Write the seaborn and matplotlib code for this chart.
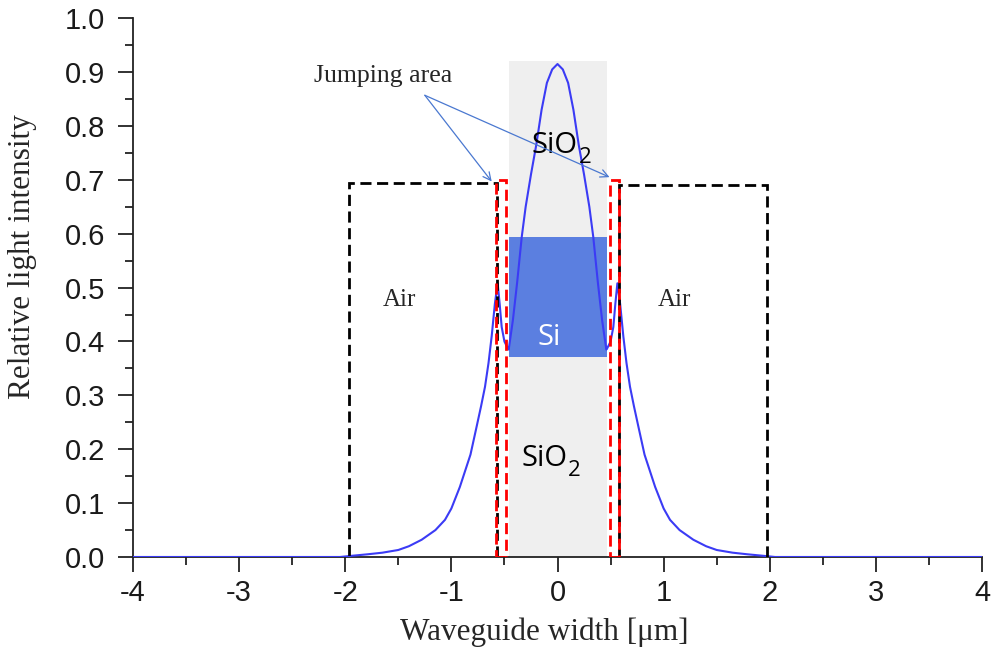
import numpy as np
import pandas as pd
import matplotlib
matplotlib.use("Agg")
import matplotlib.pyplot as plt
import matplotlib.transforms as mtransforms
import seaborn as sns
from matplotlib.patches import Rectangle

# ---- data ----
width_um = [-4.0, -2.05, -1.95, -1.79, -1.65, -1.5, -1.4, -1.28, -1.15, -1.06, -1.0,
            -0.92, -0.87, -0.82, -0.762, -0.72, -0.683, -0.65, -0.62, -0.59, -0.564,
            -0.545, -0.526, -0.5, -0.47, -0.46, -0.42, -0.38, -0.337, -0.3, -0.25,
            -0.2, -0.15, -0.1, -0.05, 0.0,
            0.05, 0.1, 0.15, 0.2, 0.25, 0.3, 0.337, 0.38, 0.42, 0.46, 0.47, 0.5,
            0.526, 0.545, 0.564, 0.59, 0.62, 0.65, 0.683, 0.72, 0.762, 0.82, 0.87,
            0.92, 1.0, 1.06, 1.15, 1.28, 1.4, 1.5, 1.65, 1.79, 1.95, 2.05, 4.0]
intensity = [0.0, 0.0, 0.002, 0.005, 0.008, 0.013, 0.02, 0.032, 0.05, 0.069, 0.09,
             0.13, 0.16, 0.19, 0.242, 0.28, 0.316, 0.36, 0.41, 0.47, 0.508,
             0.47, 0.427, 0.40, 0.388, 0.385, 0.44, 0.51, 0.594, 0.65, 0.71,
             0.765, 0.83, 0.88, 0.905, 0.915,
             0.905, 0.88, 0.83, 0.765, 0.71, 0.65, 0.594, 0.51, 0.44, 0.385, 0.388, 0.40,
             0.427, 0.47, 0.508, 0.47, 0.41, 0.36, 0.316, 0.28, 0.242, 0.19, 0.16,
             0.13, 0.09, 0.069, 0.05, 0.032, 0.02, 0.013, 0.008, 0.005, 0.002, 0.0, 0.0]

x_ticks = [-4, -3, -2, -1, 0, 1, 2, 3, 4]
y_ticks = [0.0, 0.1, 0.2, 0.3, 0.4, 0.5, 0.6, 0.7, 0.8, 0.9, 1.0]

# regions: (x0, x1, y0, y1)
sio2_region = (-0.457, 0.466, 0.0, 0.92)
si_region = (-0.457, 0.466, 0.371, 0.594)
air_left = (-1.965, -0.57, -0.003, 0.694)
air_right = (0.58, 1.975, -0.004, 0.69)
jump_left = (-0.58, -0.485, 0.0, 0.70)
jump_right = (0.495, 0.58, 0.0, 0.70)

df = pd.DataFrame({"width": width_um, "intensity": intensity})

sns.set_style("ticks")
plt.rcParams["font.family"] = ["Liberation Sans", "DejaVu Sans"]

fig = plt.figure(figsize=(9.92, 6.51), dpi=100)
ax = fig.add_axes([0.134, 0.1444, 0.856, 0.8276])

def rect(r, **kw):
    x0, x1, y0, y1 = r
    ax.add_patch(Rectangle((x0, y0), x1 - x0, y1 - y0, **kw))

rect(sio2_region, facecolor="#EFEFEF", edgecolor="none", zorder=0)
rect(si_region, facecolor="#5B7FE0", edgecolor="none", zorder=1)

sns.lineplot(data=df, x="width", y="intensity", ax=ax, color="#3B3BF5",
             linewidth=1.5, zorder=3, sort=False)

dash_kw = dict(fill=False, linestyle=(0, (4, 2)), linewidth=2.0, zorder=4)
rect(air_left, edgecolor="black", **dash_kw)
rect(air_right, edgecolor="black", **dash_kw)
rect(jump_left, edgecolor="#FF0000", **dash_kw)
rect(jump_right, edgecolor="#FF0000", **dash_kw)

ax.set_xlim(-4, 4)
ax.set_ylim(0, 1.0)
ax.set_xticks(x_ticks)
ax.set_yticks(y_ticks)
ax.set_xticklabels([str(t) for t in x_ticks])
ax.set_yticklabels([f"{t:.1f}" for t in y_ticks])
ax.set_xticks(np.arange(-3.5, 4, 1.0), minor=True)
ax.set_yticks(np.arange(0.05, 1.0, 0.1), minor=True)
ax.tick_params(axis="both", which="major", length=11, width=1.3, labelsize=21,
               direction="out", colors="#222222", labelcolor="#1a1a1a")
ax.tick_params(axis="x", which="major", pad=5)
ax.tick_params(axis="y", which="major", pad=9)
ax.tick_params(axis="both", which="minor", length=6, width=1.3, direction="out",
               colors="#222222")
sns.despine(ax=ax, top=True, right=True)
for s in ["left", "bottom"]:
    ax.spines[s].set_linewidth(1.3)
    ax.spines[s].set_color("#222222")
    ax.spines[s].set_zorder(2)

serif = ["Liberation Serif", "DejaVu Serif"]
ax.set_xlabel("Waveguide width [\u03bcm]", fontsize=22.5, family=serif)
ax.set_ylabel("Relative light intensity", fontsize=22.5, family=serif)
ax.xaxis.set_label_coords(0.484, -0.112)
ax.yaxis.set_label_coords(-0.113, 0.557)

sans = ["Open Sans", "DejaVu Sans"]

def chem(x_end, y_base, main, sub, color="black"):
    ax.text(x_end, y_base, main, fontsize=21, family=sans, color=color,
            ha="right", va="baseline", zorder=5)
    tr = mtransforms.offset_copy(ax.transData, fig=fig, x=0.5, y=-7, units="points")
    ax.text(x_end, y_base, sub, fontsize=16, family=sans, color=color,
            ha="left", va="baseline", transform=tr, zorder=5)

chem(0.193, 0.75, "SiO", "2")
chem(0.09, 0.169, "SiO", "2")
ax.text(-0.193, 0.393, "Si", fontsize=21, family=sans, color="white",
        ha="left", va="baseline", zorder=5)
ax.text(-1.49, 0.466, "Air", fontsize=18, family=serif, ha="center", va="baseline")
ax.text(1.10, 0.466, "Air", fontsize=18, family=serif, ha="center", va="baseline")
ax.text(-1.64, 0.893, "Jumping area", fontsize=18.5, family=serif, ha="center", va="center")

arrow_kw = dict(arrowstyle="->", color="#4A78D0", lw=0.9, mutation_scale=14,
                shrinkA=0, shrinkB=0)
ax.annotate("", xy=(-0.62, 0.697), xytext=(-1.25, 0.857), arrowprops=arrow_kw, zorder=6)
ax.annotate("", xy=(0.49, 0.705), xytext=(-1.25, 0.857), arrowprops=arrow_kw, zorder=6)

fig.savefig("out.png", dpi=100)
